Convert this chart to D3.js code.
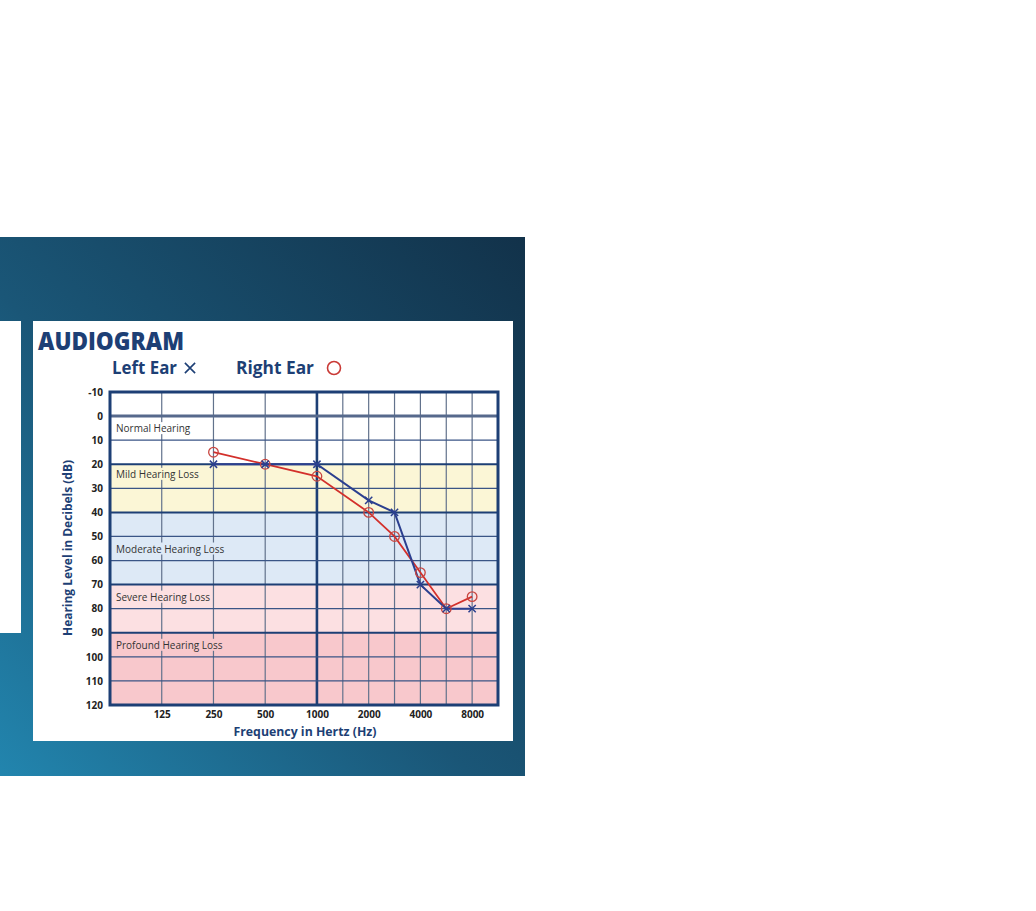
<!DOCTYPE html>
<html>
<head>
<meta charset="utf-8">
<script src="https://cdn.jsdelivr.net/npm/d3@7"></script>
<style>
  html, body { margin: 0; padding: 0; background: #fff; }
  svg { display: block; }
</style>
</head>
<body>
<div id="canvas"></div>
<script>
// audiogram data
var frequencies = [250, 500, 1000, 2000, 3000, 4000, 6000, 8000];
var leftEar  = [20, 20, 20, 35, 40, 70, 80, 80];   // X markers
var rightEar = [15, 20, 25, 40, 50, 65, 80, 75];   // O markers

var tickFreqs = [125, 250, 500, 1000, 2000, 4000, 8000];
var gridFreqs = [125, 250, 500, 1000, 1500, 2000, 3000, 4000, 6000, 8000];
var dbTicks = d3.range(-10, 121, 10);

var bands = [
  {name: 'Normal Hearing',        from: -10, to: 20,  label: 5},
  {name: 'Mild Hearing Loss',     from: 20,  to: 40,  label: 24},
  {name: 'Moderate Hearing Loss', from: 40,  to: 70,  label: 55},
  {name: 'Severe Hearing Loss',   from: 70,  to: 90,  label: 75},
  {name: 'Profound Hearing Loss', from: 90,  to: 120, label: 95}
];
var bandColors = ['#ffffff', '#fbf6d6', '#dde9f6', '#fce0e2', '#f8c8cc'];

var W = 1036, H = 911;
var svg = d3.select('#canvas').append('svg')
    .attr('width', W).attr('height', H);

// background panel gradient
var defs = svg.append('defs');
var grad = defs.append('linearGradient').attr('id', 'bg')
    .attr('x1', '0%').attr('y1', '100%').attr('x2', '100%').attr('y2', '0%');
grad.append('stop').attr('offset', '0%').attr('stop-color', '#2285ae');
grad.append('stop').attr('offset', '45%').attr('stop-color', '#1a5677');
grad.append('stop').attr('offset', '100%').attr('stop-color', '#12324a');

svg.append('rect').attr('x', 0).attr('y', 237).attr('width', 525).attr('height', 539)
    .attr('fill', 'url(#bg)');
// little white box peeking in on the left
svg.append('rect').attr('x', 0).attr('y', 321).attr('width', 21).attr('height', 312)
    .attr('fill', '#fff');
// white card
svg.append('rect').attr('x', 33).attr('y', 321).attr('width', 480).attr('height', 420)
    .attr('fill', '#fff');

var navy = '#1d3f75';

// title + legend
svg.append('text').attr('x', 38).attr('y', 350)
    .attr('font-family', 'Open Sans').attr('font-weight', 800).attr('font-size', 24)
    .attr('textLength', 146).attr('lengthAdjust', 'spacingAndGlyphs')
    .attr('fill', navy).text('AUDIOGRAM');
svg.append('text').attr('x', 112).attr('y', 374)
    .attr('font-family', 'Open Sans').attr('font-weight', 700).attr('font-size', 17)
    .attr('textLength', 65).attr('lengthAdjust', 'spacingAndGlyphs')
    .attr('fill', navy).text('Left Ear');
svg.append('path').attr('d', d3.symbol(d3.symbolX, 70)())
    .attr('transform', 'translate(190,368)')
    .attr('stroke', navy).attr('stroke-width', 1.6).attr('fill', 'none');
svg.append('text').attr('x', 236).attr('y', 374)
    .attr('font-family', 'Open Sans').attr('font-weight', 700).attr('font-size', 17)
    .attr('textLength', 78).attr('lengthAdjust', 'spacingAndGlyphs')
    .attr('fill', navy).text('Right Ear');
svg.append('circle').attr('cx', 334).attr('cy', 368).attr('r', 6.5)
    .attr('fill', 'none').attr('stroke', '#c93a36').attr('stroke-width', 1.6);

// plot area
var m = {l: 110, t: 392, r: 498, b: 705};

// audiometric octaves: half-octave lines (1500, 3000, 6000) sit halfway
function octave(f) { return Math.round(Math.log2(f / 1000) * 2) / 2; }
var x = d3.scaleLinear().domain([-4, 3.5]).range([m.l, m.r]);
var y = d3.scaleLinear().domain([-10, 120]).range([m.t, m.b]);
var fx = function(f) { return x(octave(f)); };

var plot = svg.append('g');

plot.selectAll('.band').data(bands).enter().append('rect')
    .attr('x', m.l).attr('width', m.r - m.l)
    .attr('y', function(d) { return y(d.from); })
    .attr('height', function(d) { return y(d.to) - y(d.from); })
    .attr('fill', function(d, i) { return bandColors[i]; });

// vertical grid
plot.selectAll('.vg').data(gridFreqs).enter().append('line')
    .attr('x1', fx).attr('x2', fx).attr('y1', m.t).attr('y2', m.b)
    .attr('stroke', function(d) { return d === 1000 ? navy : '#62728c'; })
    .attr('stroke-width', function(d) { return d === 1000 ? 2.6 : 1.2; });

// horizontal grid
var bandEdges = [20, 40, 70, 90];
plot.selectAll('.hg').data(dbTicks.filter(function(d) { return d > -10 && d < 120; }))
    .enter().append('line')
    .attr('x1', m.l).attr('x2', m.r)
    .attr('y1', y).attr('y2', y)
    .attr('stroke', function(d) { return d === 0 ? '#56698c' : (bandEdges.indexOf(d) >= 0 ? navy : '#3a5586'); })
    .attr('stroke-width', function(d) { return d === 0 ? 3 : (bandEdges.indexOf(d) >= 0 ? 2 : 1.2); });

// frame
plot.append('rect').attr('x', m.l).attr('y', m.t)
    .attr('width', m.r - m.l).attr('height', m.b - m.t)
    .attr('fill', 'none').attr('stroke', navy).attr('stroke-width', 3);

// band labels sit on a patch of band colour, so grid lines stop at the text
var labels = plot.selectAll('.bl').data(bands).enter().append('g');
var patches = labels.append('rect');
var ltext = labels.append('text')
    .attr('x', m.l + 6).attr('y', function(d) { return y(d.label) + 4; })
    .attr('font-family', 'Open Sans').attr('font-size', 10).attr('fill', '#333')
    .text(function(d) { return d.name; });
ltext.each(function(d, i) {
    var bb = this.getBBox();
    d3.select(patches.nodes()[i])
        .attr('x', bb.x - 1).attr('y', bb.y + 1)
        .attr('width', bb.width + 2).attr('height', bb.height - 2)
        .attr('fill', bandColors[i]);
});

// axes
var yAxis = d3.axisLeft(y).tickValues(dbTicks).tickFormat(String).tickSize(0).tickPadding(7);
var ya = svg.append('g').attr('transform', 'translate(' + m.l + ',0)').call(yAxis);
ya.select('.domain').remove();
ya.selectAll('text').attr('font-family', 'Open Sans').attr('font-weight', 700)
    .attr('font-size', 10).attr('fill', '#222');

var xAxis = d3.axisBottom(x).tickValues(tickFreqs.map(octave))
    .tickFormat(function(d, i) { return tickFreqs[i]; }).tickSize(0).tickPadding(6);
var xa = svg.append('g').attr('transform', 'translate(0,' + m.b + ')').call(xAxis);
xa.select('.domain').remove();
xa.selectAll('text').attr('font-family', 'Open Sans').attr('font-weight', 700)
    .attr('font-size', 10).attr('fill', '#222');

svg.append('text').attr('x', 305).attr('y', 736).attr('text-anchor', 'middle')
    .attr('font-family', 'Open Sans').attr('font-weight', 700).attr('font-size', 13)
    .attr('textLength', 143).attr('lengthAdjust', 'spacingAndGlyphs')
    .attr('fill', navy).text('Frequency in Hertz (Hz)');
svg.append('text').attr('transform', 'translate(72,548) rotate(-90)').attr('text-anchor', 'middle')
    .attr('font-family', 'Open Sans').attr('font-weight', 700).attr('font-size', 13)
    .attr('textLength', 176).attr('lengthAdjust', 'spacingAndGlyphs')
    .attr('fill', navy).text('Hearing Level in Decibels (dB)');

// series
var line = d3.line().x(function(d) { return fx(d.f); }).y(function(d) { return y(d.v); });
var leftPts = frequencies.map(function(f, i) { return {f: f, v: leftEar[i]}; });
var rightPts = frequencies.map(function(f, i) { return {f: f, v: rightEar[i]}; });

plot.append('path').datum(rightPts).attr('d', line)
    .attr('fill', 'none').attr('stroke', '#d3302b').attr('stroke-width', 1.8);
plot.append('path').datum(leftPts).attr('d', line)
    .attr('fill', 'none').attr('stroke', '#2b3f8f').attr('stroke-width', 2);

plot.selectAll('.ro').data(rightPts).enter().append('circle')
    .attr('cx', function(d) { return fx(d.f); }).attr('cy', function(d) { return y(d.v); })
    .attr('r', 4.8).attr('fill', 'none').attr('stroke', '#c8453f').attr('stroke-width', 1.3);
plot.selectAll('.lx').data(leftPts).enter().append('path')
    .attr('d', d3.symbol(d3.symbolX, 36)())
    .attr('transform', function(d) { return 'translate(' + fx(d.f) + ',' + y(d.v) + ')'; })
    .attr('fill', 'none').attr('stroke', '#2b3f8f').attr('stroke-width', 1.5);
</script>
</body>
</html>
